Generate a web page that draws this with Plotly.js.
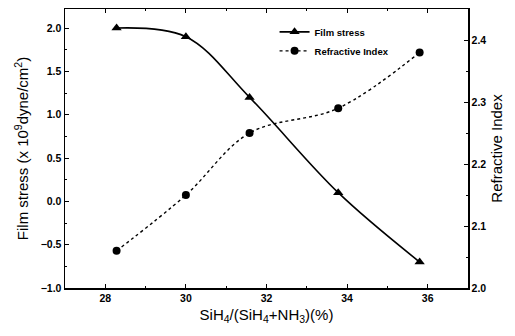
<!DOCTYPE html>
<html>
<head>
<meta charset="utf-8">
<script src="https://cdn.plot.ly/plotly-3.0.1.min.js"></script>
<style>html,body{margin:0;padding:0;background:#fff;}#chart{width:515px;height:336px;}</style>
</head>
<body>
<div id="chart"></div>
<script>
const ratio = [28.28, 30.0, 31.58, 33.78, 35.8];
const filmStress = [2.0, 1.9, 1.2, 0.1, -0.7];
const refractiveIndex = [2.06, 2.15, 2.25, 2.29, 2.38];

const F = 'Arial, "Liberation Sans", sans-serif';
const traces = [
  {x: ratio, y: filmStress, name: 'Film stress', type: 'scatter', mode: 'lines+markers',
   line: {color: '#000', width: 1.6, shape: 'spline'},
   marker: {symbol: 'triangle-up', size: 9, color: '#000'}},
  {x: ratio, y: refractiveIndex, name: 'Refractive Index', type: 'scatter', mode: 'lines+markers',
   yaxis: 'y2',
   line: {color: '#000', width: 1.4, dash: 'dot', shape: 'spline'},
   marker: {symbol: 'circle', size: 8, color: '#000'}}
];
const tickStyle = {ticks: 'inside', ticklen: 4, tickwidth: 1, tickcolor: '#000',
  showline: true, linecolor: '#000', linewidth: 1.5, showgrid: false, zeroline: false,
  tickfont: {family: F, size: 10.5, color: '#000', weight: 'bold'}};
const layout = {
  width: 515, height: 336,
  margin: {l: 65, r: 47, t: 9, b: 48},
  paper_bgcolor: '#fff', plot_bgcolor: '#fff',
  showlegend: true,
  legend: {x: 0.52, y: 0.97, xanchor: 'left', yanchor: 'top', bgcolor: 'rgba(0,0,0,0)',
    font: {family: F, size: 9.5, color: '#000', weight: 'bold'}, itemwidth: 30, tracegroupgap: 2},
  xaxis: Object.assign({}, tickStyle, {range: [27, 37], tickvals: [28, 30, 32, 34, 36],
    minor: {dtick: 1, ticks: 'inside', ticklen: 2, tickcolor: '#000'}, mirror: 'ticks',
    title: {text: 'SiH<sub>4</sub>/(SiH<sub>4</sub>+NH<sub>3</sub>)(%)', standoff: 6,
      font: {family: F, size: 15, color: '#000'}}}),
  yaxis: Object.assign({}, tickStyle, {range: [-1, 2.22], tickvals: [-1, -0.5, 0, 0.5, 1, 1.5, 2],
    tickformat: '.1f',
    minor: {dtick: 0.25, ticks: 'inside', ticklen: 2, tickcolor: '#000'},
    title: {text: 'Film stress (x 10<sup>9</sup>dyne/cm<sup>2</sup>)', standoff: 8,
      font: {family: F, size: 15, color: '#000'}}}),
  yaxis2: Object.assign({}, tickStyle, {overlaying: 'y', side: 'right', range: [2.0, 2.45],
    tickvals: [2.0, 2.1, 2.2, 2.3, 2.4], tickformat: '.1f',
    minor: {dtick: 0.05, ticks: 'inside', ticklen: 2, tickcolor: '#000'},
    title: {text: 'Refractive Index', standoff: 6, font: {family: F, size: 15, color: '#000'}}})
};
Plotly.newPlot('chart', traces, layout, {displayModeBar: false, staticPlot: true});
</script>
</body>
</html>
